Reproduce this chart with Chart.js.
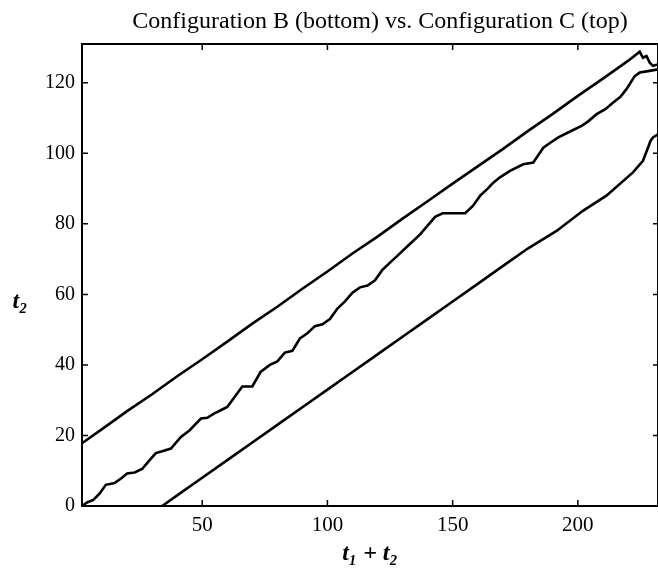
<!DOCTYPE html>
<html>
<head>
<meta charset="utf-8">
<script src="https://cdn.jsdelivr.net/npm/chart.js@4"></script>
<style>
html, body { margin: 0; padding: 0; background: #fff; }
canvas { display: block; }
</style>
</head>
<body>
<canvas id="myChart" width="658" height="568"></canvas>
<script>
// Configuration C (top boundary)
const topX = [2, 10, 20, 30, 40, 50, 60, 70, 80, 90, 100, 110, 120, 130, 140, 150, 160, 170, 180, 190, 200, 210, 220, 224.7, 226, 227.4, 228.7, 230, 232];
const topY = [17.8, 21.8, 26.9, 31.7, 36.8, 41.6, 46.6, 51.7, 56.5, 61.6, 66.5, 71.6, 76.4, 81.5, 86.4, 91.4, 96.3, 101.2, 106.3, 111.2, 116.3, 121.2, 126.2, 128.8, 127.1, 127.6, 125.7, 124.8, 125.2];

// middle trajectory
const midX = [2, 4, 6.5, 9, 11.5, 15, 18, 20, 23, 26, 29, 31.5, 34, 37.5, 41.5, 45, 49.5, 52, 54.7, 57, 60, 63, 66, 70, 73.3, 77, 80, 83, 86, 89, 92, 95, 98, 101, 104, 107, 110, 113, 116, 119, 122, 125, 128, 131, 134, 137, 140, 143, 146, 150, 155, 158, 161, 164, 166, 168.9, 172.9, 178.2, 182.2, 186.2, 189, 192.2, 197.5, 201.5, 204, 207.5, 211, 214.1, 217, 219.4, 222.7, 224.7, 228, 232];
const midY = [0, 1, 1.7, 3.5, 6, 6.5, 8, 9.2, 9.5, 10.5, 13, 15, 15.5, 16.3, 19.6, 21.5, 24.8, 25, 26.2, 27, 28.1, 31, 33.9, 33.9, 38, 40, 41, 43.5, 44, 47.5, 49, 51, 51.5, 53, 56, 58, 60.5, 62, 62.5, 64, 67, 69, 71, 73, 75, 77, 79.5, 82, 83, 83, 83, 85, 88, 90, 91.5, 93.2, 95, 96.9, 97.4, 101.6, 103, 104.5, 106.4, 107.8, 109, 111.1, 112.5, 114.4, 116, 118.2, 121.9, 122.9, 123.3, 123.8];

// Configuration B (bottom boundary)
const botX = [34, 40, 50, 60, 70, 80, 90, 100, 110, 120, 130, 140, 150, 160, 170, 180, 191.5, 202, 211.4, 222, 226, 228, 229, 230, 232];
const botY = [0, 3, 8, 13, 18, 23, 28, 33, 38, 43, 48, 53, 58, 63, 68, 73, 78, 83.7, 88, 94.6, 97.9, 101.6, 103.5, 104.5, 105.4];

const xTicks = [50, 100, 150, 200];
const yTicks = [0, 20, 40, 60, 80, 100, 120];

const serif = "'Liberation Serif', 'Times New Roman', serif";

function pts(xs, ys) {
  return xs.map((x, i) => ({ x: x, y: ys[i] }));
}

function line(xs, ys) {
  return {
    data: pts(xs, ys),
    borderColor: '#000',
    borderWidth: 2.6,
    pointRadius: 0,
    fill: false,
    tension: 0
  };
}

// top/right frame, inward tick marks, title and y label
const frame = {
  id: 'frame',
  afterDraw(chart) {
    const { ctx, chartArea: a, scales } = chart;
    ctx.save();
    ctx.strokeStyle = '#000';
    ctx.lineWidth = 2;
    ctx.beginPath();
    ctx.moveTo(a.left, a.top);
    ctx.lineTo(a.right, a.top);
    ctx.moveTo(a.right, a.top);
    ctx.lineTo(a.right, a.bottom);
    ctx.stroke();

    ctx.lineWidth = 1.5;
    ctx.beginPath();
    xTicks.forEach(v => {
      const px = scales.x.getPixelForValue(v);
      ctx.moveTo(px, a.bottom);
      ctx.lineTo(px, a.bottom - 6);
      ctx.moveTo(px, a.top);
      ctx.lineTo(px, a.top + 6);
    });
    yTicks.forEach(v => {
      const py = scales.y.getPixelForValue(v);
      ctx.moveTo(a.left, py);
      ctx.lineTo(a.left + 6, py);
      ctx.moveTo(a.right, py);
      ctx.lineTo(a.right - 5, py);
    });
    ctx.stroke();

    ctx.fillStyle = '#000';
    ctx.textAlign = 'center';
    ctx.textBaseline = 'middle';
    ctx.font = '24px ' + serif;
    ctx.fillText('Configuration B (bottom) vs. Configuration C (top)', 380, 22);
    ctx.font = 'italic bold 24px ' + serif;
    ctx.fillText('t₂', 20, 302);
    ctx.restore();
  }
};

new Chart(document.getElementById('myChart'), {
  type: 'line',
  data: {
    datasets: [line(topX, topY), line(midX, midY), line(botX, botY)]
  },
  options: {
    responsive: false,
    animation: false,
    layout: {
      padding: { top: 44, right: 0, bottom: 0, left: 0 }
    },
    plugins: {
      legend: { display: false },
      tooltip: { enabled: false }
    },
    scales: {
      x: {
        type: 'linear',
        min: 2,
        max: 232,
        afterBuildTicks: s => { s.ticks = xTicks.map(v => ({ value: v })); },
        afterFit: s => { s.height = 62; },
        grid: { display: false, drawTicks: false },
        border: { display: true, color: '#000', width: 2 },
        ticks: {
          color: '#000',
          padding: 7,
          maxRotation: 0,
          font: { family: serif, size: 21 }
        },
        title: {
          display: true,
          text: 't₁ + t₂',
          color: '#000',
          padding: 0,
          font: { family: serif, size: 24, style: 'italic', weight: 'bold' }
        }
      },
      y: {
        type: 'linear',
        min: 0,
        max: 131,
        afterBuildTicks: s => { s.ticks = yTicks.map(v => ({ value: v })); },
        afterFit: s => { s.width = 82; },
        grid: { display: false, drawTicks: false },
        border: { display: true, color: '#000', width: 2 },
        ticks: {
          color: '#000',
          padding: 7,
          font: { family: serif, size: 20 }
        }
      }
    }
  },
  plugins: [frame]
});
</script>
</body>
</html>
